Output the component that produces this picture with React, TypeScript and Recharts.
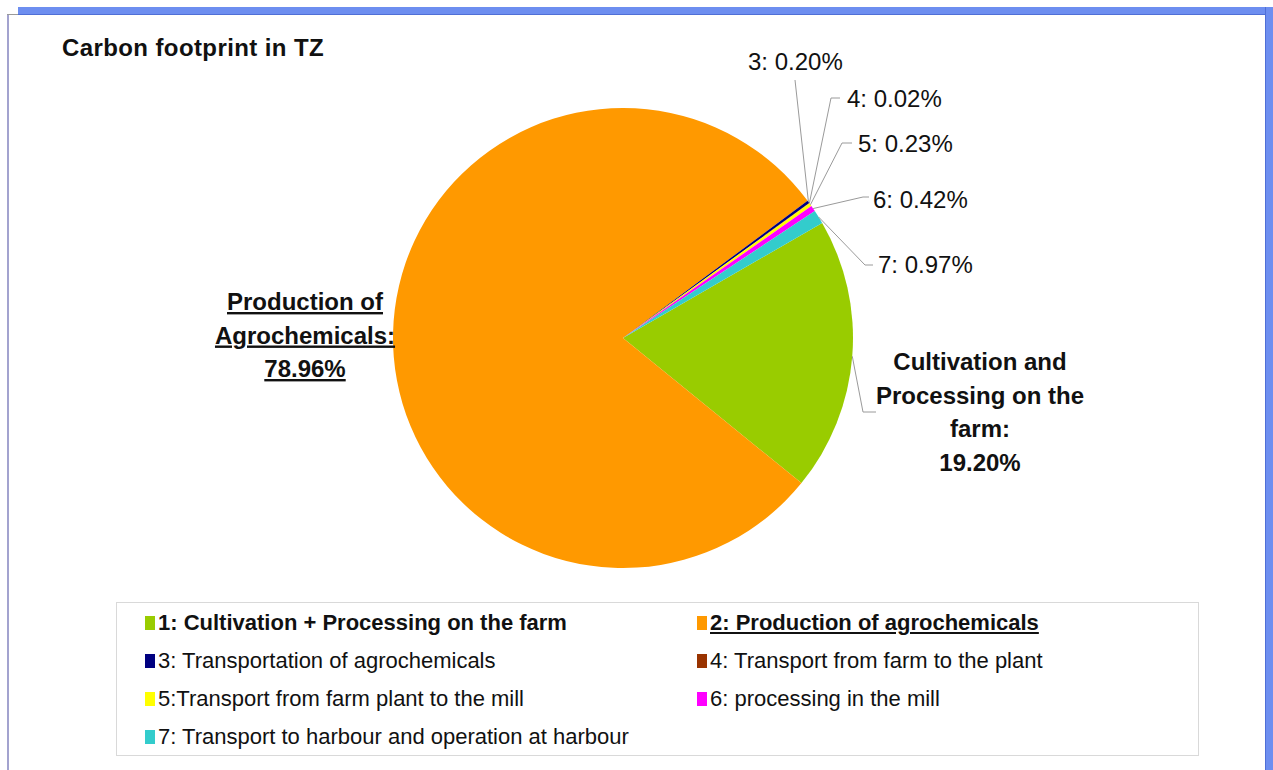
import { Cell, Legend, Pie, PieChart } from "recharts";

const categories = [
  "1: Cultivation + Processing on the farm",
  "2: Production of agrochemicals",
  "3: Transportation of agrochemicals",
  "4: Transport from farm to the plant",
  "5:Transport from farm plant to the mill",
  "6: processing in the mill",
  "7: Transport to harbour and operation at harbour",
];
const shares = [19.2, 78.96, 0.2, 0.02, 0.23, 0.42, 0.97];
const sliceColors = ["#99cc00", "#ff9900", "#000080", "#993300", "#ffff00", "#ff00ff", "#33cccc"];
const bigLabelLines: Record<number, string[]> = {
  0: ["Cultivation and", "Processing on the", "farm:"],
  1: ["Production of", "Agrochemicals:"],
};

const FONT = "'Liberation Sans', Arial, Helvetica, sans-serif";
const RAD = Math.PI / 180;

// where each label sits, relative to the pie centre
type Spot = { tx: number; ty: number; anchor: "start" | "middle"; line?: number[][] };
const labelSpots: Spot[] = [
  { tx: 357, ty: 32, anchor: "middle", line: [[240, 74], [253, 74]] },
  { tx: -318, ty: -28, anchor: "middle" },
  { tx: 125, ty: -268, anchor: "start", line: [[172, -258]] },
  { tx: 224, ty: -231, anchor: "start", line: [[208, -240], [217, -240]] },
  { tx: 235, ty: -186, anchor: "start", line: [[219, -195], [229, -195]] },
  { tx: 250, ty: -130, anchor: "start", line: [[240, -141], [246, -141]] },
  { tx: 255, ty: -65, anchor: "start", line: [[242, -73], [250, -73]] },
];

const data = categories.map((name, i) => ({ name, value: shares[i] }));

function renderLabel(p: any) {
  const { cx, cy, midAngle, outerRadius, index, value } = p;
  const spot = labelSpots[index];
  const rx = cx + outerRadius * Math.cos(-midAngle * RAD);
  const ry = cy + outerRadius * Math.sin(-midAngle * RAD);
  const pts = spot.line
    ? [[rx, ry], ...spot.line.map(([x, y]) => [cx + x, cy + y])].map(q => q.join(",")).join(" ")
    : null;
  const pct = `${value.toFixed(2)}%`;
  const big = bigLabelLines[index];
  const x = cx + spot.tx;
  const y = cy + spot.ty;

  if (big) {
    const lines = [...big, pct];
    return (
      <g key={`lbl-${index}`}>
        {pts && <polyline points={pts} fill="none" stroke="#9a9a9a" strokeWidth={1} />}
        <text
          x={x}
          y={y}
          textAnchor="middle"
          fill="#111"
          fontFamily={FONT}
          fontSize={24}
          fontWeight="bold"
          style={index === 1 ? { textDecoration: "underline" } : undefined}
        >
          {lines.map((l, i) => (
            <tspan key={i} x={x} dy={i === 0 ? 0 : 33.5}>
              {l}
            </tspan>
          ))}
        </text>
      </g>
    );
  }

  return (
    <g key={`lbl-${index}`}>
      {pts && <polyline points={pts} fill="none" stroke="#9a9a9a" strokeWidth={1} />}
      <text x={x} y={y} textAnchor="start" fill="#111" fontFamily={FONT} fontSize={24}>
        {`${index + 1}: ${pct}`}
      </text>
    </g>
  );
}

function renderLegend() {
  return (
    <div
      style={{
        boxSizing: "border-box",
        width: 1083,
        height: 154,
        border: "1px solid #d9d9d9",
        padding: "1px 0 0 28px",
        display: "grid",
        gridTemplateColumns: "552px 480px",
        gridAutoRows: "38px",
        fontFamily: FONT,
        fontSize: 22,
        color: "#111",
      }}
    >
      {categories.map((c, i) => (
        <div key={c} style={{ display: "flex", alignItems: "center", whiteSpace: "nowrap" }}>
          <span
            style={{
              display: "inline-block",
              width: 10,
              height: 14,
              background: sliceColors[i],
              marginRight: 3,
            }}
          />
          <span
            style={{
              fontWeight: i < 2 ? "bold" : "normal",
              textDecoration: i === 1 ? "underline" : "none",
            }}
          >
            {c}
          </span>
        </div>
      ))}
    </div>
  );
}

export default function App() {
  return (
    <div style={{ position: "relative", width: 1273, height: 770, background: "#fff", overflow: "hidden" }}>
      <style>{`body{margin:0}`}</style>
      {/* window frame */}
      <div style={{ position: "absolute", left: 18, top: 7, width: 1255, height: 7, background: "#6d8ef0", borderBottom: "1px solid #4f6fd6" }} />
      <div style={{ position: "absolute", left: 1265, top: 7, width: 8, height: 763, background: "#6d8ef0", borderLeft: "1px solid #4f6fd6" }} />
      <div style={{ position: "absolute", left: 7, top: 14, width: 2, height: 756, background: "#a3a3cf" }} />
      <div style={{ position: "absolute", left: 7, top: 14, width: 11, height: 1, background: "#9a9a9a" }} />
      <div
        style={{
          position: "absolute",
          left: 62,
          top: 36,
          fontFamily: FONT,
          fontSize: 24,
          lineHeight: "24px",
          fontWeight: "bold",
          letterSpacing: 0.4,
          color: "#111",
          zIndex: 2,
        }}
      >
        Carbon footprint in TZ
      </div>
      <div style={{ position: "absolute", left: 0, top: 0 }}>
        <PieChart width={1273} height={770} margin={{ top: 0, right: 0, bottom: 0, left: 0 }}>
          <Pie
            data={data}
            dataKey="value"
            nameKey="name"
            cx={623}
            cy={338}
            outerRadius={230}
            startAngle={30}
            endAngle={-330}
            stroke="none"
            label={renderLabel}
            labelLine={false}
            isAnimationActive={false}
          >
            {data.map((d, i) => (
              <Cell key={d.name} fill={sliceColors[i]} />
            ))}
          </Pie>
          <Legend
            content={renderLegend}
            wrapperStyle={{ position: "absolute", left: 116, top: 602, width: 1083, height: 154, bottom: "auto" }}
          />
        </PieChart>
      </div>
    </div>
  );
}
